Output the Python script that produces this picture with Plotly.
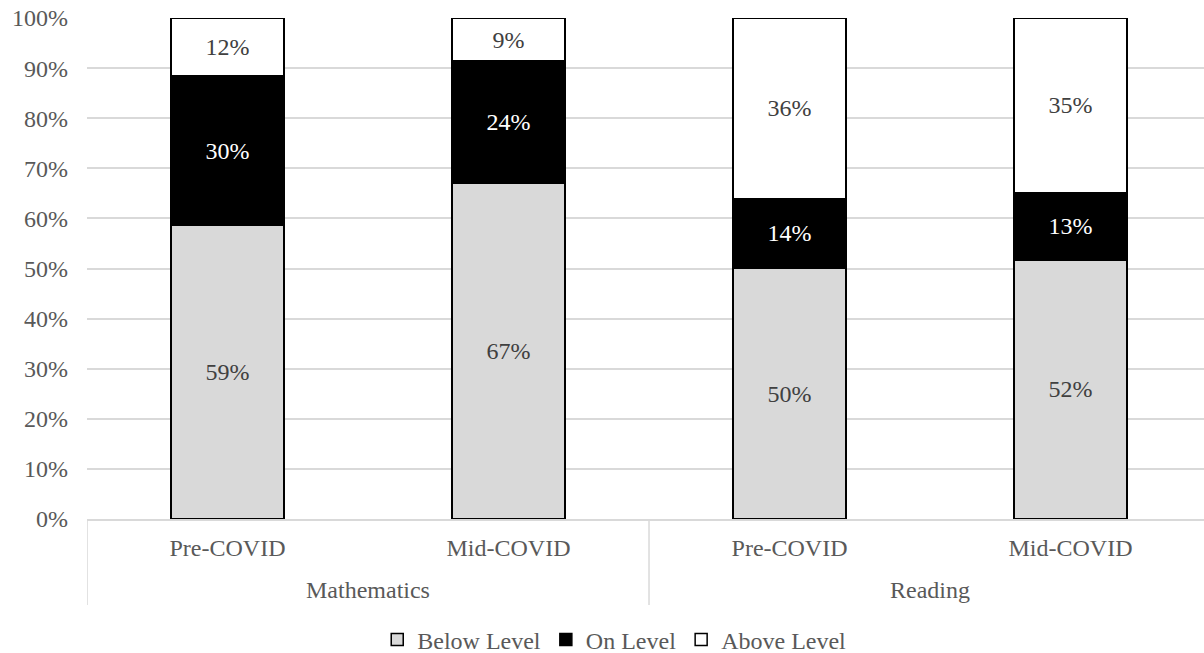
import plotly.graph_objects as go

# Subject / period categories
subjects = ["Mathematics", "Mathematics", "Reading", "Reading"]
periods = ["Pre-COVID", "Mid-COVID", "Pre-COVID", "Mid-COVID"]

# Share of students at each level (fractions of 1)
below_level = [0.586, 0.670, 0.501, 0.517]
on_level = [0.298, 0.244, 0.139, 0.134]
above_level = [0.116, 0.086, 0.360, 0.349]

y_ticks = [i / 10 for i in range(11)]

FONT = "Liberation Serif, Times New Roman, serif"
GREY_TEXT = "#595959"
RULE = "#d9d9d9"

positions = list(range(len(periods)))

series = [
    ("Below Level", below_level, "#d9d9d9", "#404040"),
    ("On Level", on_level, "#000000", "#ffffff"),
    ("Above Level", above_level, "#ffffff", "#404040"),
]

fig = go.Figure()
for name, vals, fill, txt in series:
    fig.add_trace(go.Bar(
        name=name,
        x=positions,
        y=vals,
        marker=dict(color=fill, line=dict(color="#000000", width=1.5)),
        width=0.402,
        texttemplate="%{y:.0%}",
        textposition="inside",
        insidetextanchor="middle",
        textangle=0,
        constraintext="none",
        textfont=dict(family=FONT, size=24, color=txt),
    ))

# Group the periods under their subject: label centred on each group,
# vertical dividers at the group boundaries.
groups = []
for i, s in enumerate(subjects):
    if not groups or groups[-1][0] != s:
        groups.append([s, i, i])
    else:
        groups[-1][2] = i

annotations = []
shapes = []
for s, first, last in groups:
    annotations.append(dict(
        x=(first + last) / 2, xref="x",
        y=-0.1417, yref="paper",
        text=s, showarrow=False,
        xanchor="center", yanchor="middle",
        font=dict(family=FONT, size=24, color=GREY_TEXT),
    ))
boundaries = [groups[0][1] - 0.5] + [last + 0.5 for _, _, last in groups]
for b in boundaries:
    shapes.append(dict(
        type="line", xref="x", yref="paper",
        x0=b, x1=b, y0=0, y1=-0.1717,
        line=dict(color=RULE, width=1.5),
        layer="below",
    ))

fig.update_layout(
    barmode="stack",
    width=1204,
    height=653,
    margin=dict(l=87, r=0, t=18, b=134, autoexpand=False),
    paper_bgcolor="#ffffff",
    plot_bgcolor="#ffffff",
    font=dict(family=FONT, size=24, color=GREY_TEXT),
    legend=dict(
        orientation="h",
        x=0.472,
        xanchor="center",
        y=-0.2415,
        yanchor="middle",
        font=dict(family=FONT, size=24, color=GREY_TEXT),
        itemwidth=30,
        traceorder="normal",
    ),
    showlegend=True,
    annotations=annotations,
    shapes=shapes,
)

fig.update_xaxes(
    range=[-0.5, 3.475],
    tickvals=positions,
    ticktext=periods,
    showline=True,
    linecolor=RULE,
    linewidth=1.5,
    ticks="",
    ticklabelstandoff=6,
    tickfont=dict(family=FONT, size=24, color=GREY_TEXT),
    showgrid=False,
    zeroline=False,
    automargin=False,
)

fig.update_yaxes(
    range=[0, 1],
    tickvals=y_ticks,
    tickformat=".0%",
    showgrid=True,
    gridcolor=RULE,
    gridwidth=1.5,
    zeroline=False,
    showline=False,
    ticks="",
    ticklabelstandoff=18,
    tickfont=dict(family=FONT, size=24, color=GREY_TEXT),
    automargin=False,
)

fig.write_html("out.html")
